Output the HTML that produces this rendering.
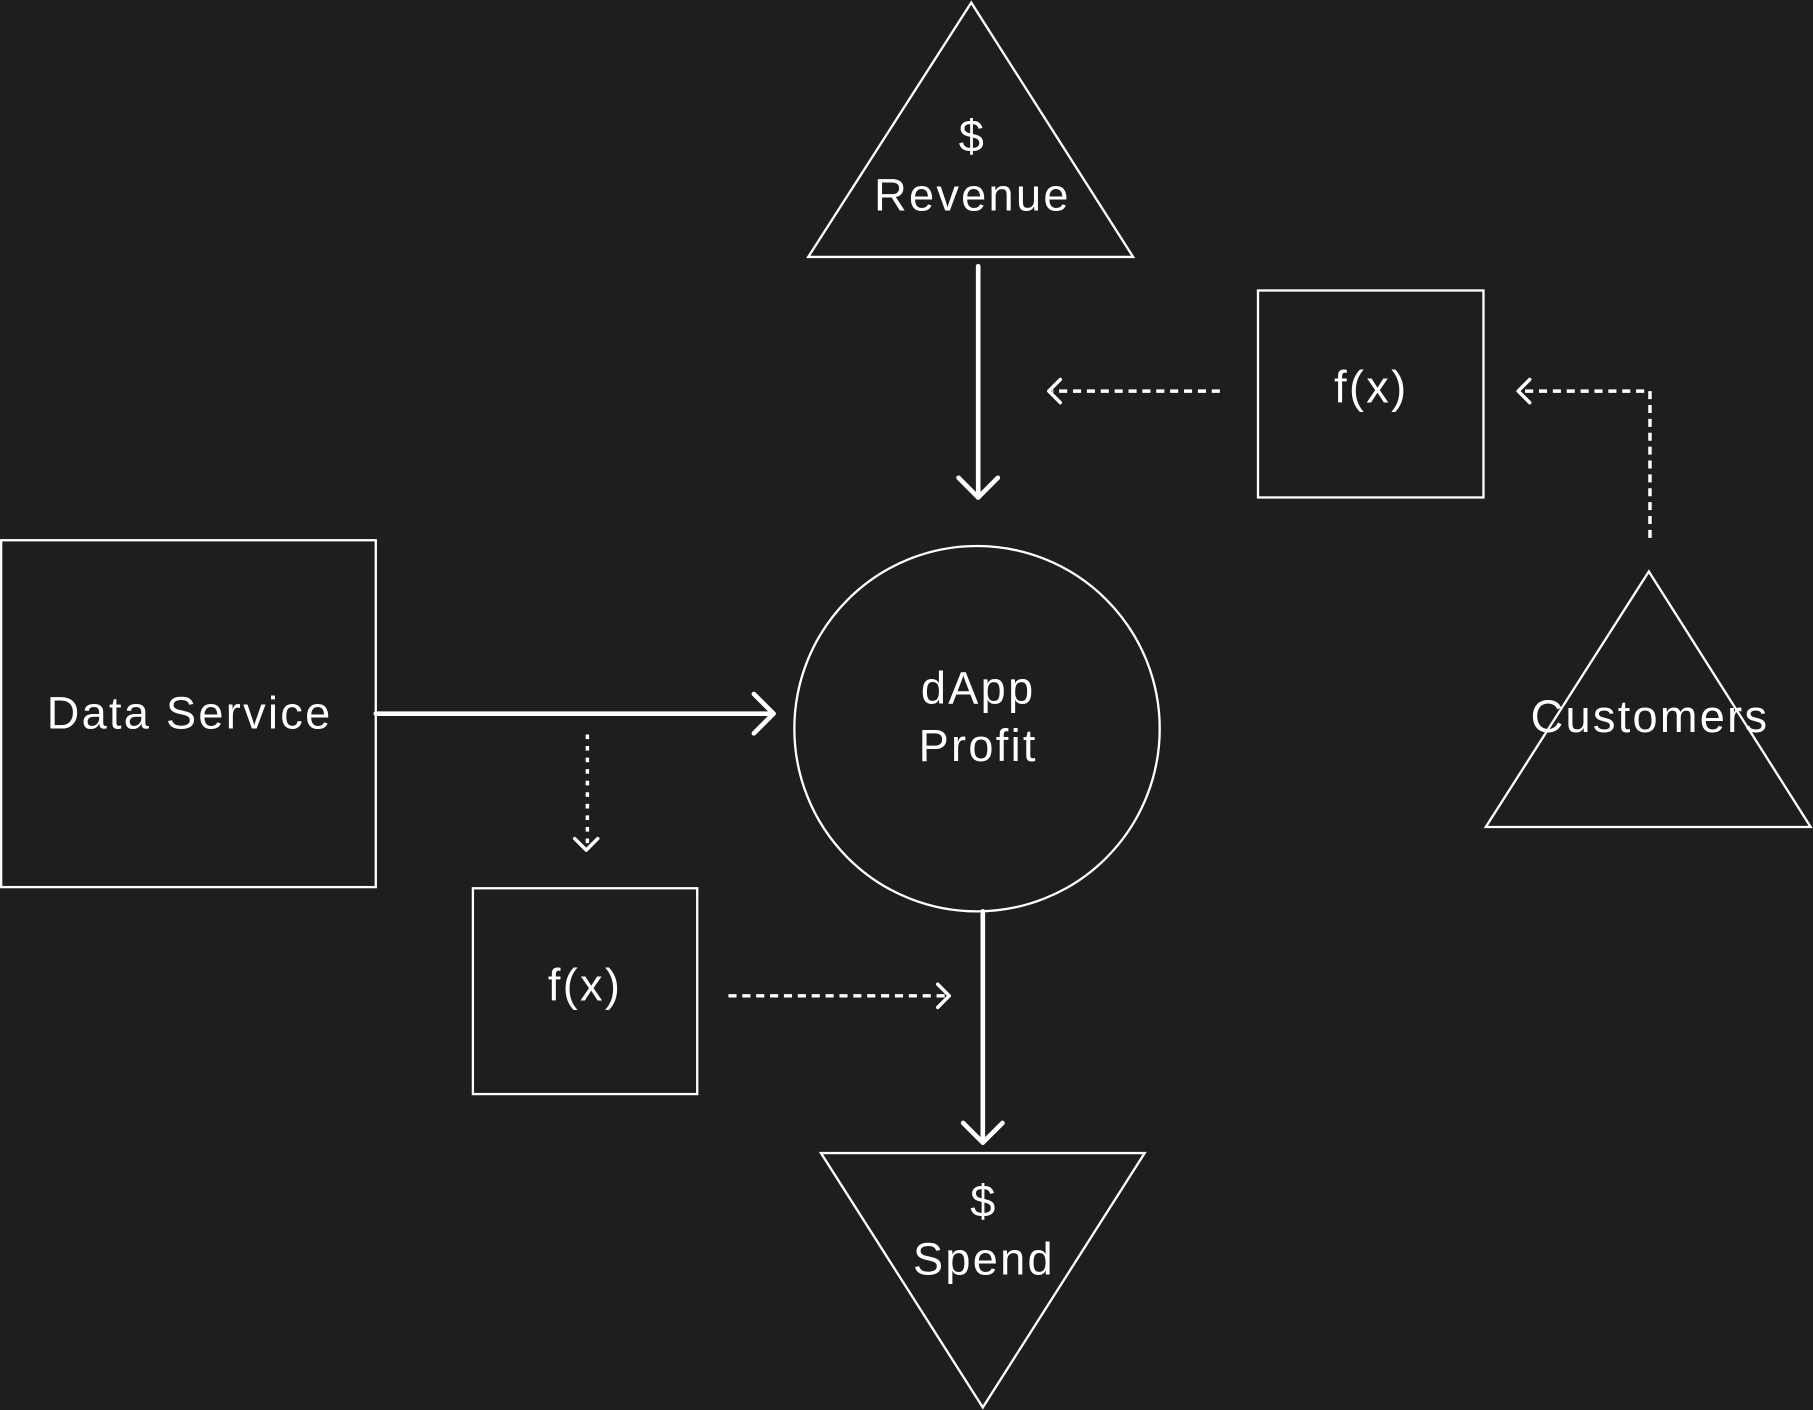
<!DOCTYPE html>
<html><head><meta charset="utf-8"><style>
html,body{margin:0;padding:0;background:#1e1e1e;}
svg{display:block;}
text{font-family:"Liberation Sans",sans-serif;fill:#fff;font-size:39px;letter-spacing:2px;text-anchor:middle;}
</style></head><body>
<svg width="1813" height="1410" viewBox="0 0 1568 1219" xmlns="http://www.w3.org/2000/svg">
<rect width="1568" height="1219" fill="#1e1e1e"/>
<g fill="none" stroke="#fff" stroke-width="2">
<polygon points="840,2 699,222 980,222"/>
<rect x="1088" y="251" width="195" height="179"/>
<polygon points="1426,494 1285,715 1566,715"/>
<rect x="1" y="467" width="324" height="300"/>
<circle cx="845" cy="630" r="158"/>
<rect x="409" y="768" width="194" height="178"/>
<polygon points="710,997 990,997 850,1217"/>
</g>
<g fill="none" stroke="#fff" stroke-width="4" stroke-linecap="round" stroke-linejoin="round">
<line x1="846" y1="230" x2="846" y2="430"/><polyline points="829,413 846,430 863,413"/>
<line x1="325" y1="617" x2="669" y2="617"/><polyline points="652,600 669,617 652,634"/>
<line x1="850" y1="788" x2="850" y2="988"/><polyline points="833,971 850,988 867,971"/>
</g>
<g fill="none" stroke="#fff" stroke-width="3" stroke-dasharray="7,5">
<line x1="1055" y1="338" x2="910" y2="338"/>
<polyline points="1427,465 1427,338 1315,338"/>
<line x1="630" y1="861" x2="818" y2="861"/>
</g>
<line x1="508" y1="635" x2="508" y2="733" stroke="#fff" stroke-width="3" stroke-dasharray="4,6"/>
<g fill="none" stroke="#fff" stroke-width="3" stroke-linecap="round" stroke-linejoin="round">
<polyline points="917,328 907,338 917,348"/>
<polyline points="1323,328 1313,338 1323,348"/>
<polyline points="811,851 821,861 811,871"/>
<polyline points="497,725 507,735 517,725"/>
</g>
<text x="841" y="131">$</text>
<text x="841" y="182">Revenue</text>
<text x="1186" y="348">f(x)</text>
<text x="1427" y="633">Customers</text>
<text x="164" y="630">Data Service</text>
<text x="846" y="608">dApp</text>
<text x="846" y="658">Profit</text>
<text x="506" y="865">f(x)</text>
<text x="851" y="1052">$</text>
<text x="851" y="1102">Spend</text>
</svg>
</body></html>
